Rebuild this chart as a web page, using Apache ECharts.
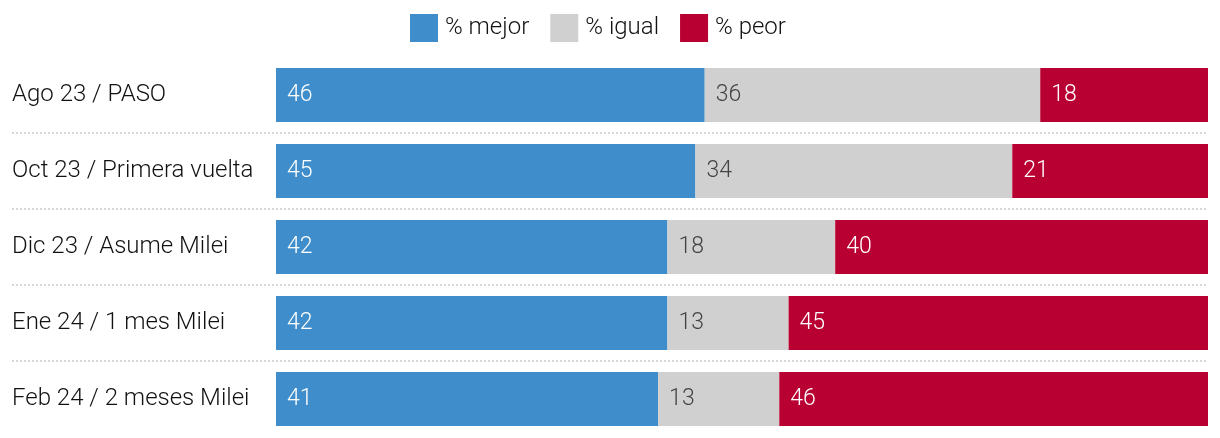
<!DOCTYPE html>
<html>
<head>
<meta charset="utf-8">
<script src="https://cdn.jsdelivr.net/npm/echarts@6/dist/echarts.min.js"></script>
<style>html,body{margin:0;padding:0;background:#fff;}#c{width:1220px;height:438px;}</style>
</head>
<body>
<div id="c"></div>
<script>
const categories = ['Ago 23 / PASO', 'Oct 23 / Primera vuelta', 'Dic 23 / Asume Milei', 'Ene 24 / 1 mes Milei', 'Feb 24 / 2 meses Milei'];
const mejor = [46, 45, 42, 42, 41];
const igual = [36, 34, 18, 13, 13];
const peor = [18, 21, 40, 45, 46];
const seriesNames = ['% mejor', '% igual', '% peor'];

const FONT = 'Roboto, "Noto Sans", sans-serif';
const colors = ['#3f8ecb', '#d0d0d0', '#b90032'];
const labelColors = ['#ffffff', '#444444', '#ffffff'];
const values = [mejor, igual, peor];

const chart = echarts.init(document.getElementById('c'));
chart.setOption({
  animation: false,
  textStyle: { fontFamily: FONT },
  legend: {
    top: 9, left: 405,
    itemWidth: 28, itemHeight: 28, itemGap: 21,
    icon: 'rect',
    textStyle: { fontSize: 24, fontWeight: 300, color: '#111', fontFamily: FONT, padding: [0, 0, 0, 2] },
    data: seriesNames
  },
  grid: [
    { left: 276, right: 12, top: 57, bottom: 1 },
    { left: 12, right: 12, top: 57, bottom: 1 }
  ],
  xAxis: [
    { type: 'value', gridIndex: 0, min: 0, max: 100, show: false },
    { type: 'value', gridIndex: 1, min: 0, max: 100, show: false }
  ],
  yAxis: [
    {
      type: 'category', gridIndex: 0, inverse: true, data: categories,
      axisLine: { show: false }, axisTick: { show: false }, splitLine: { show: false },
      axisLabel: { show: true, align: 'left', margin: 264, fontSize: 24, fontWeight: 300, color: '#111', fontFamily: FONT, padding: [3, 0, 0, 0] }
    },
    {
      type: 'category', gridIndex: 1, inverse: true, data: categories,
      axisLine: { show: false }, axisTick: { show: false }, axisLabel: { show: false },
      splitLine: { show: true, showMinLine: false, showMaxLine: false, lineStyle: { color: '#d6d6d6', width: 2, type: [2, 2] } }
    }
  ],
  series: values.map((v, i) => ({
    name: seriesNames[i],
    type: 'bar',
    stack: 'total',
    xAxisIndex: 0, yAxisIndex: 0,
    barWidth: 54,
    data: v,
    itemStyle: { color: colors[i] },
    label: {
      show: true, position: 'insideLeft', distance: 11,
      fontSize: 23, fontWeight: 300, color: labelColors[i], fontFamily: FONT
    }
  }))
});
</script>
</body>
</html>
